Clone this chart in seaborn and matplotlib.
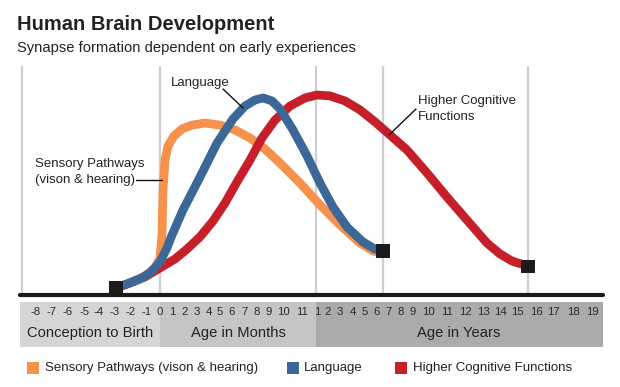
import matplotlib
matplotlib.use("Agg")
import matplotlib.pyplot as plt
import seaborn as sns
import pandas as pd
from matplotlib.lines import Line2D
from matplotlib.patches import Rectangle

# ---------------- data (x: timeline units, y: relative synapse formation 0-100) -------------
sensory_x = [96, 110, 125, 135, 140, 142, 142, 143, 143, 145, 148, 154, 162, 172, 185, 200,
             215, 230, 245, 260, 280, 300, 320, 340, 353, 363]
sensory_y = [3.5, 5.7, 8.7, 12.2, 16.5, 22.2, 30.9, 41.7, 50.4, 59.1, 65.2, 69.6, 72.6, 74.3,
             75.2, 74.3, 72.2, 68.7, 63.9, 57.8, 49.1, 39.6, 30.9, 23.0, 19.6, 18.7]

language_x = [96, 110, 120, 130, 140, 147, 152, 163, 180, 197, 213, 225, 235, 243, 252, 260,
              273, 287, 300, 313, 327, 343, 355, 363]
language_y = [3.5, 5.7, 7.4, 10.0, 14.8, 20.9, 26.5, 37.4, 51.7, 66.5, 77.0, 82.6, 85.2, 86.1,
              84.8, 81.3, 72.2, 60.9, 49.1, 38.7, 30.0, 23.5, 20.4, 19.6]

higher_x = [96, 110, 125, 140, 155, 167, 180, 193, 205, 217, 230, 242, 255, 270, 285, 297,
            310, 325, 340, 355, 370, 387, 407, 427, 447, 467, 480, 492, 508]
higher_y = [3.5, 5.7, 8.3, 12.2, 16.1, 20.4, 25.7, 32.6, 40.4, 49.6, 59.1, 68.7, 76.5, 82.6,
            86.1, 87.4, 87.0, 84.8, 80.9, 75.7, 70.0, 63.5, 53.5, 43.0, 33.0, 23.0, 18.3, 15.2, 13.0]

tick_labels = ["-8", "-7", "-6", "-5", "-4", "-3", "-2", "-1", "0",
               "1", "2", "3", "4", "5", "6", "7", "8", "9", "10", "11",
               "1", "2", "3", "4", "5", "6", "7", "8", "9", "10", "11", "12", "13", "14",
               "15", "16", "17", "18", "19"]
period_labels = ["Conception to Birth", "Age in Months", "Age in Years"]
series_names = ["Sensory Pathways (vison & hearing)", "Language", "Higher Cognitive Functions"]

# ---------------- layout / style ----------------
tick_pos = [16, 32, 48, 64, 79, 95, 111, 127, 140, 152, 165, 177, 189, 200, 212, 225, 237,
            249, 263, 282, 297, 308, 320, 333, 345, 357, 369, 381, 393, 408, 427, 445, 463,
            480, 497, 516, 533, 553, 572]
period_bounds = [(0, 140), (140, 296), (296, 583)]
period_colors = ["#d5d5d5", "#c5c5c5", "#ababab"]
period_label_x = [70, 218, 439]
gridline_x = [2, 140, 296, 363, 508]

ORANGE = "#f5914a"
BLUE = "#3b6896"
RED = "#c61f29"
TXT = "#222222"

sns.set_theme(style="white")
plt.rcParams["font.family"] = ["Liberation Sans", "DejaVu Sans"]

W, H = 620, 387
fig = plt.figure(figsize=(W / 100, H / 100), dpi=100)
fig.patch.set_facecolor("white")


def fx(px):
    return px / W


def fy(py):
    return 1 - py / H


ax = fig.add_axes([fx(20), fy(296), 583 / W, 230 / H])
ax.set_xlim(0, 583)
ax.set_ylim(0, 100)
ax.set_axis_off()

ax.vlines(gridline_x, 0, 100, color="#cfcfcf", linewidth=1.6, zorder=1)

lw = 6.3
for xs, ys, col, z in [(sensory_x, sensory_y, ORANGE, 2),
                       (higher_x, higher_y, RED, 3),
                       (language_x, language_y, BLUE, 4)]:
    df = pd.DataFrame({"x": xs, "y": ys})
    sns.lineplot(data=df, x="x", y="y", sort=False, color=col, linewidth=lw, ax=ax,
                 zorder=z, solid_joinstyle="round", solid_capstyle="butt")

sq = pd.DataFrame({"x": [language_x[0], language_x[-1], higher_x[-1]],
                   "y": [language_y[0], language_y[-1], higher_y[-1]]})
sns.scatterplot(data=sq, x="x", y="y", marker="s", s=90, color="#1c1c1c",
                edgecolor="none", ax=ax, zorder=6, clip_on=False)

ax.axhline(0.4, color="#1a1a1a", linewidth=3.0, zorder=7, clip_on=False)
ax.set_xlabel("")
ax.set_ylabel("")

# band with ticks
bax = fig.add_axes([fx(20), fy(347), 583 / W, 45 / H])
bax.set_xlim(0, 583)
bax.set_ylim(0, 1)
bax.set_axis_off()
for (a, b), c in zip(period_bounds, period_colors):
    bax.axvspan(a, b, color=c, lw=0)
for p, t in zip(tick_pos, tick_labels):
    bax.text(p, 0.77, t, ha="center", va="center", fontsize=8.2, color="#2a2a2a")
for p, t in zip(period_label_x, period_labels):
    bax.text(p, 0.32, t, ha="center", va="center", fontsize=10.6, color=TXT)

# titles
fig.text(fx(17), fy(25), "Human Brain Development", fontsize=14.5, fontweight="bold",
         color=TXT, ha="left", va="center")
fig.text(fx(17), fy(48), "Synapse formation dependent on early experiences", fontsize=10.6,
         color=TXT, ha="left", va="center")

# annotations
fig.text(fx(200), fy(83), "Language", fontsize=9.5, color=TXT, ha="center", va="center")
fig.text(fx(35), fy(164), "Sensory Pathways", fontsize=9.5, color=TXT, ha="left", va="center")
fig.text(fx(35), fy(180), "(vison & hearing)", fontsize=9.5, color=TXT, ha="left", va="center")
fig.text(fx(418), fy(101), "Higher Cognitive", fontsize=9.5, color=TXT, ha="left", va="center")
fig.text(fx(418), fy(117), "Functions", fontsize=9.5, color=TXT, ha="left", va="center")
for (x0, y0), (x1, y1) in [((223, 89), (243, 108)), ((136, 180), (162, 180)),
                           ((416, 109), (389, 135))]:
    fig.add_artist(Line2D([fx(x0), fx(x1)], [fy(y0), fy(y1)], transform=fig.transFigure,
                          color="#111111", linewidth=1.0, zorder=10))

# legend
for (lx, tx), col, name in zip([(27, 45), (287, 304), (395, 413)], [ORANGE, BLUE, RED],
                                series_names):
    fig.add_artist(Rectangle((fx(lx), fy(374)), 12 / W, 12 / H, transform=fig.transFigure,
                             facecolor=col, edgecolor="none"))
    fig.text(fx(tx), fy(368), name, fontsize=9.5, color=TXT, ha="left", va="center")

fig.savefig("out.png", dpi=100, facecolor="white")
